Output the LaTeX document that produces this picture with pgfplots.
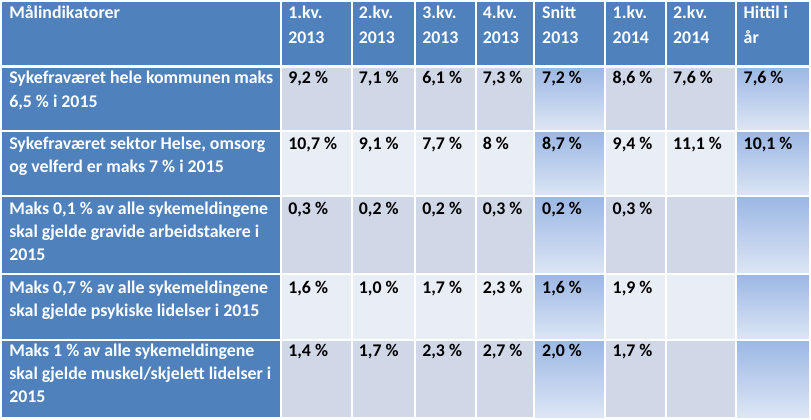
\documentclass[border=0pt]{standalone}
\usepackage{fontspec}
\setmainfont{Carlito}
\usepackage{pgfplots}
\usepackage{pgfplotstable}
\pgfplotsset{compat=1.18}

\definecolor{hdr}{HTML}{4F81BD}
\definecolor{rowA}{HTML}{D0D8E8}
\definecolor{rowB}{HTML}{E9EDF4}
\definecolor{gradTop}{HTML}{9BB7E4}
\definecolor{gradBot}{HTML}{DDE6F4}

% cell values: x = text start, y = baseline (px), v = percent
\pgfplotstableread{
x   y   v
289 85  9.2
359 85  7.1
422 85  6.1
482 85  7.3
541 85  7.2
611 85  8.6
671 85  7.6
741 85  7.6
289 150 10.7
359 150 9.1
422 150 7.7
541 150 8.7
611 150 9.4
671 150 11.1
741 150 10.1
289 215 0.3
359 215 0.2
422 215 0.2
482 215 0.3
541 215 0.2
611 215 0.3
289 293 1.6
359 293 1.0
422 293 1.7
482 293 2.3
541 293 1.6
611 293 1.9
289 356 1.4
359 356 1.7
422 356 2.3
482 356 2.7
541 356 2.0
611 356 1.7
}\vals
% the one value printed without decimals
\pgfplotstableread{
x   y   v
482 150 8
}\valsint

\newcommand{\cellfont}{\fontsize{17.7}{20}\selectfont\bfseries}

\begin{document}
\begin{tikzpicture}
\begin{axis}[
  width=811pt, height=423pt, scale only axis,
  xmin=0, xmax=811, ymin=0, ymax=423,
  y dir=reverse,
  hide axis, clip=false,
  every node near coord/.style={anchor=base west, inner sep=0pt, text=black, font=\cellfont},
]
  % backgrounds
  \fill[hdr] (axis cs:5,4) rectangle (axis cs:806,416);
  \fill[rowA] (axis cs:282,68) rectangle (axis cs:806,132);
  \fill[rowB] (axis cs:282,132) rectangle (axis cs:806,197);
  \fill[rowA] (axis cs:282,197) rectangle (axis cs:806,274);
  \fill[rowB] (axis cs:282,274) rectangle (axis cs:806,339);
  \fill[rowA] (axis cs:282,339) rectangle (axis cs:806,416);
  \foreach \a/\b in {68/132,132/197,197/274,274/339,339/416}{
    \edef\tmp{\noexpand\shade[top color=gradTop, bottom color=gradBot]
      (axis cs:533,\a) rectangle (axis cs:604,\b);
      \noexpand\shade[top color=gradTop, bottom color=gradBot]
      (axis cs:734,\a) rectangle (axis cs:806,\b);}
    \tmp
  }
  % white cell gaps
  \foreach \c in {282,352,415,475,533,604,664,734}{
    \edef\tmp{\noexpand\draw[white, line width=2pt] (axis cs:\c,3) -- (axis cs:\c,417);}
    \tmp
  }
  \foreach \r in {68,132,197,274,339}{
    \edef\tmp{\noexpand\draw[white, line width=2pt] (axis cs:4,\r) -- (axis cs:807,\r);}
    \tmp
  }

  % values
  \addplot[draw=none, mark=none, point meta=explicit,
    nodes near coords={\pgfmathprintnumber[fixed, fixed zerofill, precision=1, use comma, assume math mode=true]{\pgfplotspointmeta}~\%}]
    table[x=x, y=y, meta=v] {\vals};
  \addplot[draw=none, mark=none, point meta=explicit,
    nodes near coords={\pgfmathprintnumber[fixed, precision=0, use comma, assume math mode=true]{\pgfplotspointmeta}~\%}]
    table[x=x, y=y, meta=v] {\valsint};

  % header
  \begin{scope}[every node/.style={anchor=base west, inner sep=0pt, text=white, font=\cellfont}]
    \node at (axis cs:12,20) {Målindikatorer};
    \node at (axis cs:289,20) {1.kv.};  \node at (axis cs:289,45) {2013};
    \node at (axis cs:359,20) {2.kv.};  \node at (axis cs:359,45) {2013};
    \node at (axis cs:422,20) {3.kv.};  \node at (axis cs:422,45) {2013};
    \node at (axis cs:482,20) {4.kv.};  \node at (axis cs:482,45) {2013};
    \node at (axis cs:541,20) {Snitt};  \node at (axis cs:541,45) {2013};
    \node at (axis cs:611,20) {1.kv.};  \node at (axis cs:611,45) {2014};
    \node at (axis cs:671,20) {2.kv.};  \node at (axis cs:671,45) {2014};
    \node at (axis cs:741,20) {Hittil i}; \node at (axis cs:741,45) {år};
    % first column
    \node at (axis cs:12,85)  {Sykefraværet hele kommunen maks};
    \node at (axis cs:12,109) {6,5 \% i 2015};
    \node at (axis cs:12,150) {Sykefraværet sektor Helse, omsorg};
    \node at (axis cs:12,173) {og velferd er maks 7 \% i 2015};
    \node at (axis cs:12,215) {Maks 0,1 \% av alle sykemeldingene};
    \node at (axis cs:12,238) {skal gjelde gravide arbeidstakere i};
    \node at (axis cs:12,261) {2015};
    \node at (axis cs:12,293) {Maks 0,7 \% av alle sykemeldingene};
    \node at (axis cs:12,316) {skal gjelde psykiske lidelser i 2015};
    \node at (axis cs:12,356) {Maks 1 \% av alle sykemeldingene};
    \node at (axis cs:12,379) {skal gjelde muskel/skjelett lidelser i};
    \node at (axis cs:12,402) {2015};
  \end{scope}
\end{axis}
\end{tikzpicture}
\end{document}
